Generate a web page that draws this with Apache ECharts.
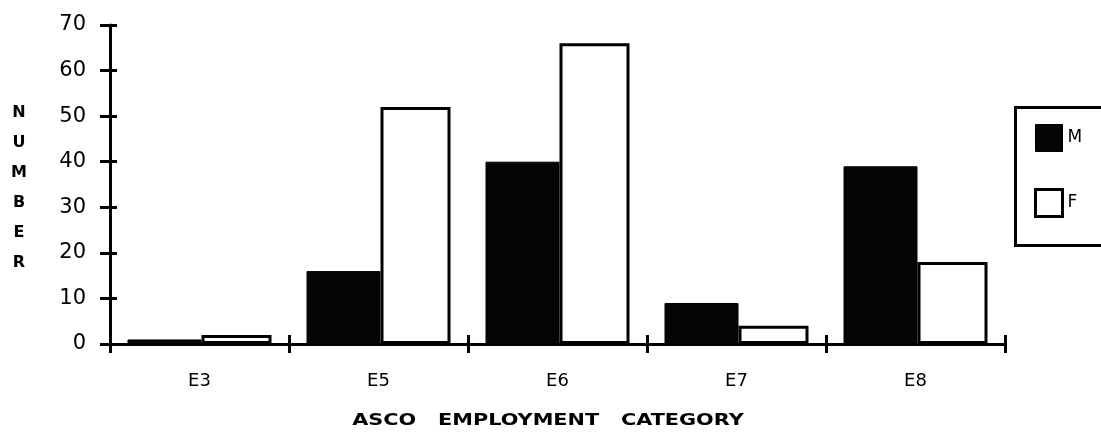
<!DOCTYPE html>
<html>
<head>
<meta charset="utf-8">
<script src="https://cdn.jsdelivr.net/npm/echarts@6/dist/echarts.min.js"></script>
<style>
  html, body { margin: 0; padding: 0; background: #fff; }
  #chart { width: 1101px; height: 432px; }
</style>
</head>
<body>
<div id="chart"></div>
<script>
// Staff counts by ASCO employment category, split by sex
const categories = ['E3', 'E5', 'E6', 'E7', 'E8'];
const maleCounts = [1, 16, 40, 9, 39];
const femaleCounts = [2, 52, 66, 4, 18];
const yTicks = [0, 10, 20, 30, 40, 50, 60, 70];

const FONT = '"DejaVu Sans", Verdana, sans-serif';
const INK = '#000';

const chart = echarts.init(document.getElementById('chart'), null, { renderer: 'canvas' });

const maleStyle = { color: '#050505', borderColor: INK, borderWidth: 1 };
const femaleStyle = { color: '#fff', borderColor: INK, borderWidth: 3 };

chart.setOption({
  animation: false,
  backgroundColor: '#fff',
  grid: { left: 110, right: 96, top: 25, bottom: 88, containLabel: false },
  xAxis: [
    {
      type: 'category',
      data: categories,
      position: 'bottom',
      axisLine: { show: true, lineStyle: { color: INK, width: 3 } },
      axisTick: { show: true, inside: false, length: 9, lineStyle: { color: INK, width: 3 } },
      axisLabel: { color: INK, fontFamily: FONT, fontSize: 18, margin: 28 }
    },
    {
      type: 'category',
      data: categories,
      position: 'bottom',
      axisLine: { show: false },
      axisTick: { show: true, inside: true, length: 9, lineStyle: { color: INK, width: 3 } },
      axisLabel: { show: false }
    }
  ],
  yAxis: [
    {
      type: 'value',
      min: yTicks[0],
      max: yTicks[yTicks.length - 1],
      interval: 10,
      position: 'left',
      splitLine: { show: false },
      axisLine: { show: true, lineStyle: { color: INK, width: 3 } },
      axisTick: { show: true, inside: false, length: 10, lineStyle: { color: INK, width: 3 } },
      axisLabel: { color: INK, fontFamily: FONT, fontSize: 21, margin: 24 }
    },
    {
      type: 'value',
      min: yTicks[0],
      max: yTicks[yTicks.length - 1],
      interval: 10,
      position: 'left',
      offset: 0,
      splitLine: { show: false },
      axisLine: { show: false },
      axisTick: { show: true, inside: true, length: 7, lineStyle: { color: INK, width: 3 } },
      axisLabel: { show: false }
    }
  ],
  legend: {
    orient: 'vertical',
    left: 1029,
    top: 119,
    itemWidth: 27,
    itemHeight: 27,
    itemGap: 36,
    icon: 'rect',
    textStyle: { color: INK, fontFamily: FONT, fontSize: 17, padding: [6, 0, 0, 0] },
    data: [
      { name: 'M', itemStyle: maleStyle },
      { name: 'F', itemStyle: femaleStyle }
    ]
  },
  graphic: [
    {
      // frame around the legend
      type: 'rect',
      left: 1013,
      top: 105,
      shape: { width: 120, height: 138 },
      style: { fill: 'none', stroke: INK, lineWidth: 3 },
      silent: true
    },
    {
      // vertical axis title, one letter per line
      type: 'text',
      x: 19,
      y: 98,
      style: {
        text: 'N\nU\nM\nB\nE\nR',
        fill: INK,
        font: 'bold 16px ' + FONT,
        lineHeight: 30,
        align: 'center',
        verticalAlign: 'top'
      }
    },
    {
      // horizontal axis title, stretched to the width of the plot labels
      type: 'text',
      x: 548,
      y: 421,
      scaleX: 1.3,
      style: {
        text: 'ASCO   EMPLOYMENT   CATEGORY',
        fill: INK,
        font: 'bold 16px ' + FONT,
        align: 'center',
        verticalAlign: 'middle'
      }
    }
  ],
  series: [
    {
      name: 'M',
      type: 'bar',
      data: maleCounts,
      xAxisIndex: 0,
      yAxisIndex: 0,
      barWidth: 74,
      barGap: '0%',
      itemStyle: maleStyle
    },
    {
      name: 'F',
      type: 'bar',
      data: femaleCounts,
      xAxisIndex: 0,
      yAxisIndex: 0,
      barWidth: 70,
      barGap: '0%',
      itemStyle: femaleStyle
    }
  ]
});
</script>
</body>
</html>
